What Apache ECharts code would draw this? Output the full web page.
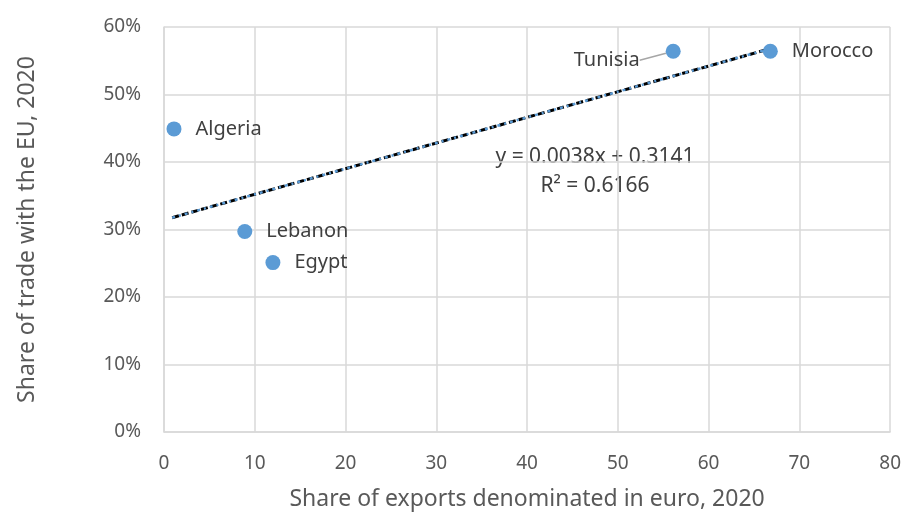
<!DOCTYPE html>
<html>
<head>
<meta charset="utf-8">
<script src="https://cdn.jsdelivr.net/npm/echarts@6/dist/echarts.min.js"></script>
<style>html,body{margin:0;padding:0;background:#fff}#c{width:904px;height:516px}</style>
</head>
<body>
<div id="c"></div>
<script>
const countries = ['Algeria', 'Lebanon', 'Egypt', 'Tunisia', 'Morocco'];
const euroExportShare = [1.1, 8.9, 12.0, 56.1, 66.8];
const euTradeShare = [0.449, 0.297, 0.251, 0.564, 0.564];
const trendX = [0.9, 67.1];
const trendY = [0.3175, 0.5691];
const xTicks = [0, 10, 20, 30, 40, 50, 60, 70, 80];
const yTicks = [0, 0.1, 0.2, 0.3, 0.4, 0.5, 0.6];
const equationText = 'y = 0.0038x + 0.3141\nR² = 0.6166';

const FONT = 'Noto Sans';
const TXT = '#595959';
const LBL = '#404040';
const BLUE = '#5b9bd5';

const points = countries.map((c, i) => ({
  name: c,
  value: [euroExportShare[i], euTradeShare[i]],
  label: c === 'Tunisia' ? { position: 'left', distance: 4 } : { position: 'right', distance: 14 },
  labelLine: c === 'Tunisia' ? { show: true } : { show: false }
}));
const trendData = trendX.map((x, i) => [x, trendY[i]]);

const chart = echarts.init(document.getElementById('c'), null, { renderer: 'canvas' });
chart.setOption({
  animation: false,
  textStyle: { fontFamily: FONT },
  grid: { left: 164, right: 11, top: 27, bottom: 83, containLabel: false },
  xAxis: {
    type: 'value', min: xTicks[0], max: xTicks[xTicks.length - 1], interval: 10,
    name: 'Share of exports denominated in euro, 2020', nameLocation: 'middle', nameGap: 56,
    nameTextStyle: { color: TXT, fontSize: 23, fontFamily: FONT },
    axisLine: { show: true, lineStyle: { color: '#d9d9d9', width: 1.5 } },
    axisTick: { show: false },
    axisLabel: { color: TXT, fontSize: 19, margin: 22, fontFamily: FONT },
    splitLine: { show: true, lineStyle: { color: '#d9d9d9', width: 1.5 } }
  },
  yAxis: {
    type: 'value', min: yTicks[0], max: yTicks[yTicks.length - 1], interval: 0.1,
    name: 'Share of trade with the EU, 2020', nameLocation: 'middle', nameGap: 125,
    nameTextStyle: { color: TXT, fontSize: 23, fontFamily: FONT },
    axisLine: { show: true, lineStyle: { color: '#d9d9d9', width: 1.5 } },
    axisTick: { show: false },
    axisLabel: { color: TXT, fontSize: 19, margin: 23, fontFamily: FONT,
      formatter: v => Math.round(v * 100) + '%' },
    splitLine: { show: true, lineStyle: { color: '#d9d9d9', width: 1.5 } }
  },
  series: [
    {
      type: 'line', data: trendData, symbol: 'none', silent: true, z: 3,
      lineStyle: { color: '#000', width: 3, type: [7, 3] }
    },
    {
      type: 'line', data: trendData, symbol: 'none', silent: true, z: 4,
      lineStyle: { color: BLUE, width: 2.5, type: [3, 4, 2, 4] }
    },
    {
      type: 'scatter', data: points, symbolSize: 15, z: 5,
      itemStyle: { color: BLUE, opacity: 1 },
      label: { show: true, formatter: '{b}', color: LBL, fontSize: 20, fontFamily: FONT },
      labelLayout: p => (p.dataIndex === 3 ? { dx: -22, dy: 9 } : {}),
      labelLine: { lineStyle: { color: '#a6a6a6', width: 1.5 } }
    }
  ],
  graphic: [{
    type: 'text', x: 595, y: 143,
    style: { text: equationText, fill: LBL, font: '21px "Noto Sans"', align: 'center', lineHeight: 29 }
  }]
});
</script>
</body>
</html>
